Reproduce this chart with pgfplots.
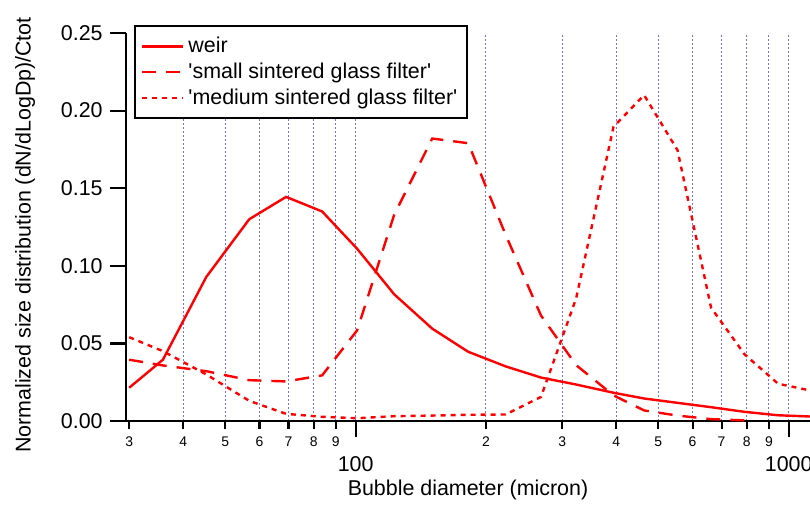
\documentclass[border=0pt]{standalone}
\usepackage{fontspec}
\setmainfont{Liberation Sans}
\newfontfamily\plainfont{Liberation Sans}
\usepackage{pgfplots}
\pgfplotsset{compat=1.18}
\definecolor{gridblue}{RGB}{110,110,255}

\begin{document}
\fontsize{10.75}{13}\selectfont
\begin{tikzpicture}
\begin{axis}[
  at={(0,0)}, anchor=south west,
  scale only axis, width=342bp, height=194bp,
  xmode=log, xmin=29.5, xmax=1120,
  ymin=0, ymax=0.25,
  axis lines*=left,
  axis line style={line width=1.2bp},
  every tick/.style={black, line width=1.1bp},
  tick align=outside,
  major tick length=8bp, minor tick length=4bp,
  /pgf/number format/assume math mode=true,
  ytick={0,0.05,0.10,0.15,0.20,0.25},
  yticklabel style={/pgf/number format/fixed, /pgf/number format/fixed zerofill,
                    /pgf/number format/precision=2},
  xtick={100,1000}, xticklabels={100,1000},
  xticklabel style={yshift=-6bp},
  minor xtick={40,50,60,70,80,90,200,300,400,500,600,700,800,900},
  extra x ticks={30,40,50,60,70,80,90,200,300,400,500,600,700,800,900},
  extra x tick labels={3,4,5,6,7,8,9,2,3,4,5,6,7,8,9},
  extra x tick style={grid=none, major tick length=4bp,
                      xticklabel style={font=\fontsize{7}{8}\selectfont, yshift=6bp}},
  xmajorgrids, xminorgrids,
  grid style={gridblue, line width=0.5bp, dash pattern=on 1bp off 1bp},
  xlabel={Bubble diameter (micron)},
  ylabel={Normalized size distribution (dN/dLogDp)/Ctot},
  every axis x label/.style={at={(rel axis cs:0.5,0)}, anchor=center, yshift=-34.5bp},
  every axis y label/.style={at={(rel axis cs:0,0.5)}, xshift=-50.5bp, yshift=-4bp,
                             rotate=90, anchor=center},
  legend style={at={(rel axis cs:0,1)}, anchor=north west, xshift=4bp, yshift=4bp,
                draw=black, line width=1.1bp, fill=white, row sep=-0.5bp,
                inner ysep=3.5bp},
  legend cell align=left,
  legend image code/.code={\draw[#1] (0bp,0bp) -- (20.5bp,0bp);},
]

% weir
\addplot[red, line width=1.2bp] coordinates {
  (30.0,0.0214) (35.9,0.0395) (45.2,0.0928) (56.8,0.130) (69.1,0.1444)
  (83.7,0.135) (100.8,0.111) (122.8,0.0816) (150.3,0.0595) (182.0,0.0446)
  (222.0,0.0352) (267.9,0.028) (323.0,0.0235) (394.1,0.0182) (463.6,0.0145)
  (553.7,0.0117) (661.9,0.0089) (790.9,0.0059) (945.2,0.0037) (1120,0.0029)
};
\addlegendentry{weir}

% small sintered glass filter
\addplot[red, line width=1.2bp, dash pattern=on 7bp off 5bp] coordinates {
  (30.0,0.0395) (35.9,0.0358) (45.2,0.0321) (56.8,0.0263) (69.1,0.0255)
  (83.7,0.0294) (100.8,0.0584) (122.8,0.133) (150.3,0.182) (182.0,0.179)
  (222.0,0.120) (267.9,0.068) (323.0,0.036) (394.1,0.0165) (463.6,0.0068)
  (553.7,0.0035) (661.9,0.0012) (790.9,0.0004)
};
\addlegendentry{\plainfont 'small sintered glass filter'}

% medium sintered glass filter
\addplot[red, line width=1.2bp, dash pattern=on 2.5bp off 2.5bp] coordinates {
  (30.0,0.054) (35.9,0.045) (45.2,0.030) (56.8,0.013) (69.1,0.0046)
  (83.7,0.0027) (100.8,0.0018) (122.8,0.0031) (150.3,0.0035) (182.0,0.0040)
  (222.0,0.0042) (267.9,0.0155) (323.0,0.079) (394.1,0.1896) (463.6,0.210)
  (553.7,0.1745) (661.9,0.073) (790.9,0.043) (945.2,0.024) (1120,0.0197)
};
\addlegendentry{\plainfont 'medium sintered glass filter'}

\end{axis}
\pgfresetboundingbox
\useasboundingbox (-63bp,-42bp) rectangle (342bp,210.5bp);
\end{tikzpicture}
\end{document}
